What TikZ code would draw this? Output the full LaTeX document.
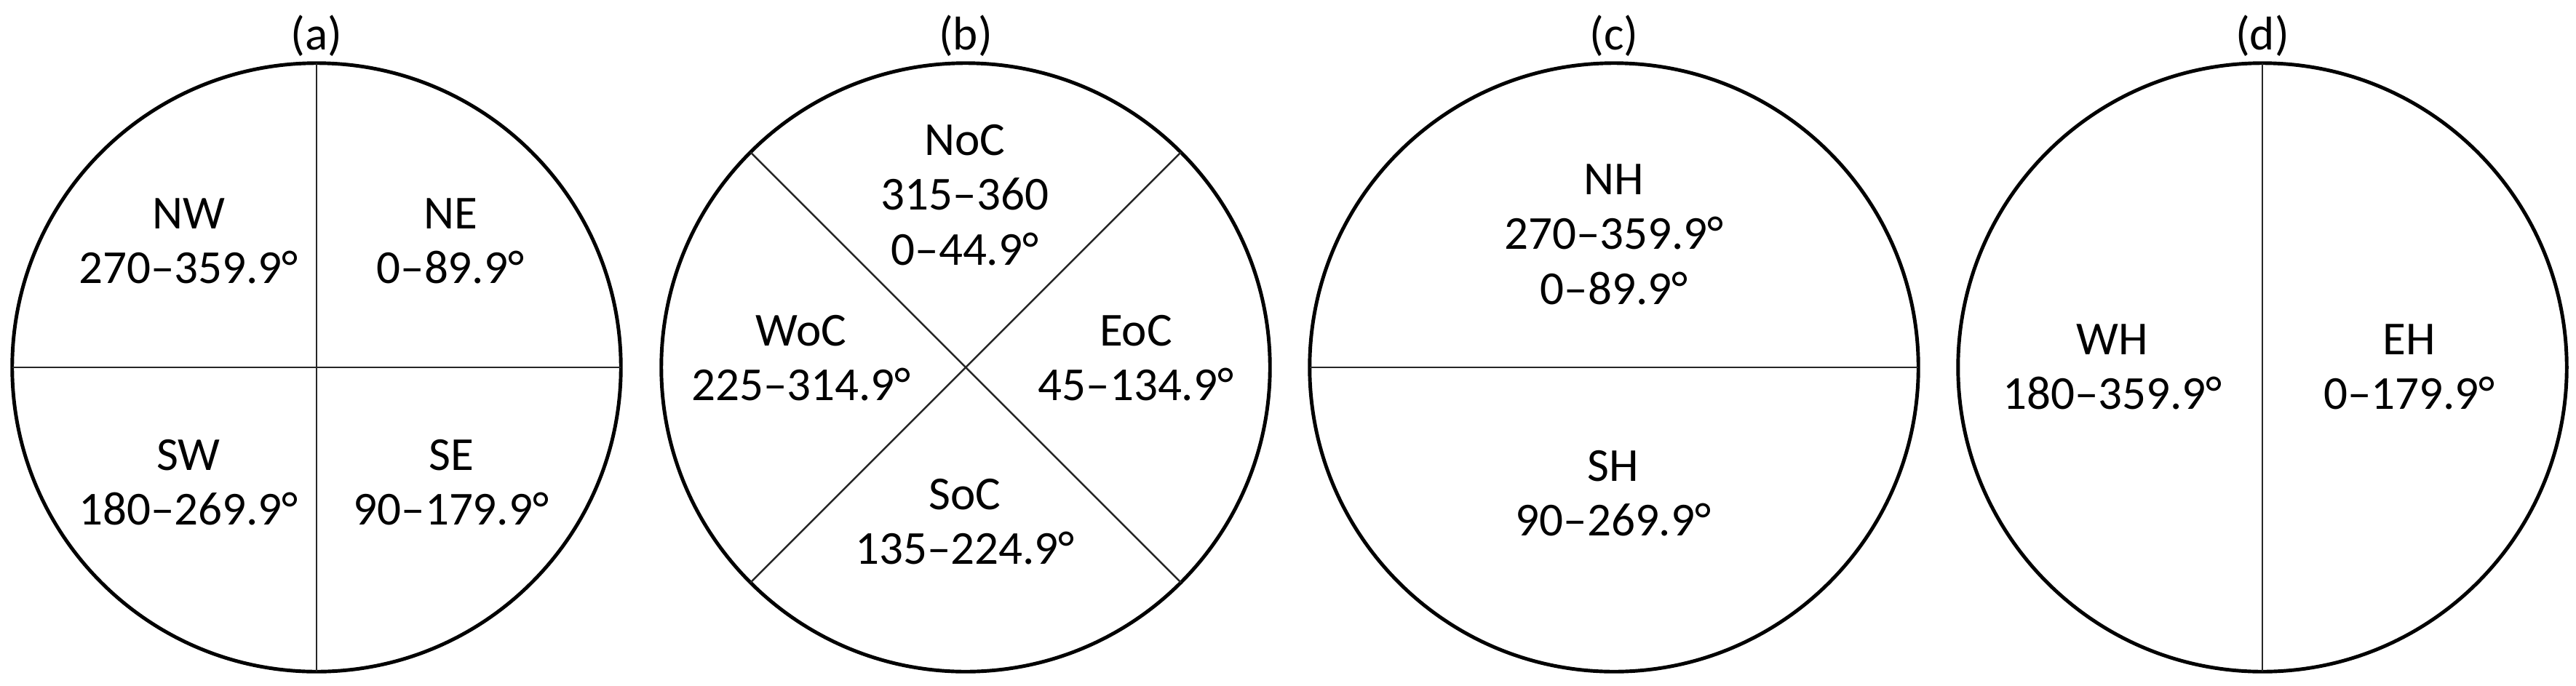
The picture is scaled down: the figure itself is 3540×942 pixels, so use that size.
\documentclass[tikz,border=0pt]{standalone}
\usepackage{fontspec}
\setmainfont{Carlito}
\newcommand{\stk}[1]{\begin{tabular}[t]{@{}c@{}}#1\end{tabular}}
\begin{document}
\begin{tikzpicture}[x=0.01cm,y=-0.01cm,
  ring/.style={circle,draw=black,line width=1.4pt,minimum size=8.36cm,inner sep=0pt,outer sep=0pt},
  divider/.style={draw=black!85,line width=0.7pt},
  lbl/.style={font=\fontsize{18.5}{21.5}\selectfont,inner sep=0pt,anchor=base},
]
\useasboundingbox (0,0) rectangle (3540,942);
% circles
\node[ring] (ca) at (435,505) {};
\node[ring] (cb) at (1327,505) {};
\node[ring] (cc) at (2218,505) {};
\node[ring] (cd) at (3109,505) {};
% dividers
\draw[divider] (ca.north) -- (ca.south);
\draw[divider] (ca.west) -- (ca.east);
\draw[divider] (cb.north west) -- (cb.south east);
\draw[divider] (cb.north east) -- (cb.south west);
\draw[divider] (cc.west) -- (cc.east);
\draw[divider] (cd.north) -- (cd.south);
% panel labels
\node[lbl] (ta) at (435,68) {(a)};
\node[lbl] (tb) at (1327,68) {(b)};
\node[lbl] (tc) at (2218,68) {(c)};
\node[lbl] (td) at (3109,68) {(d)};
% (a)
\node[lbl] (nw) at (259,314) {\stk{NW\\270–359.9°}};
\node[lbl] (ne) at (619,314) {\stk{NE\\0–89.9°}};
\node[lbl] (sw) at (259,646) {\stk{SW\\180–269.9°}};
\node[lbl] (se) at (620,646) {\stk{SE\\90–179.9°}};
% (b)
\node[lbl] (noc) at (1326,213) {\stk{NoC\\315–360\\0–44.9°}};
\node[lbl] (woc) at (1101,475) {\stk{WoC\\225–314.9°}};
\node[lbl] (eoc) at (1561,475) {\stk{EoC\\45–134.9°}};
\node[lbl] (soc) at (1326,700) {\stk{SoC\\135–224.9°}};
% (c)
\node[lbl] (nh) at (2218,267) {\stk{NH\\270–359.9°\\0–89.9°}};
\node[lbl] (sh) at (2217,661) {\stk{SH\\90–269.9°}};
% (d)
\node[lbl] (wh) at (2903,487) {\stk{WH\\180–359.9°}};
\node[lbl] (eh) at (3311,487) {\stk{EH\\0–179.9°}};
\end{tikzpicture}
\end{document}
